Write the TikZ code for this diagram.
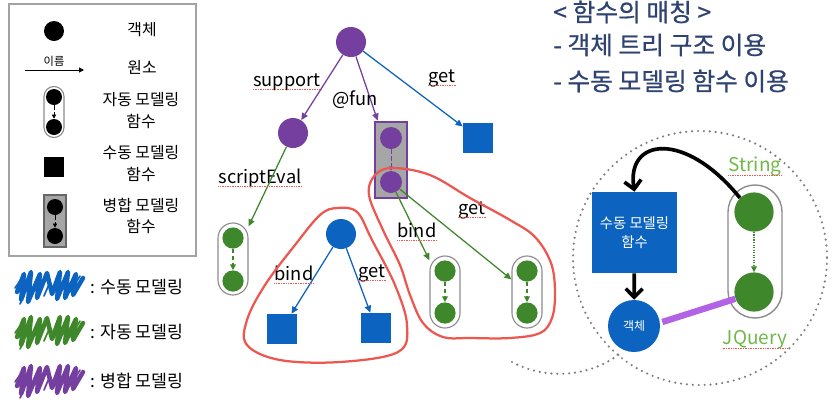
\documentclass[tikz,border=0pt]{standalone}
\usepackage{fontspec}
\setmainfont{Noto Sans CJK KR}
\newfontfamily\titlefont[FakeBold=0.6]{Noto Sans CJK KR}
\usetikzlibrary{arrows.meta}

\definecolor{tpurple}{RGB}{116,63,159}
\definecolor{tblue}{RGB}{12,100,192}
\definecolor{tgreen}{RGB}{62,135,42}
\definecolor{tgray}{RGB}{166,166,166}
\definecolor{capgray}{RGB}{140,140,140}
\definecolor{tred}{RGB}{236,88,80}
\definecolor{tnavy}{RGB}{47,67,114}
\definecolor{tlime}{RGB}{112,184,72}
\definecolor{tlilac}{RGB}{178,98,228}
\definecolor{dotgray}{RGB}{125,125,125}

\tikzset{
  ball/.style={circle, inner sep=0pt, minimum size=#1},
  sq/.style={rectangle, inner sep=0pt, minimum size=0.75cm, fill=tblue},
  capsule/.style={draw=capgray, line width=0.8pt, rounded corners=0.375cm, minimum width=0.75cm, minimum height=#1, inner sep=0pt},
  treearr/.style={line width=0.9pt, -{Triangle[length=5pt,width=4.5pt]}},
  dasharr/.style={line width=0.9pt, densely dashed, -{Triangle[length=4pt,width=4pt]}},
  lab/.style={font=\fontsize{13}{15}\selectfont, inner sep=0pt},
  lg/.style={font=\fontsize{11.3}{15.6}\selectfont, align=center, inner sep=0pt},
  spellline/.style={tred, line width=0.6pt, dash pattern=on 0.6pt off 0.6pt},
  redline/.style={tred, line width=1.6pt},
  titletext/.style={anchor=west, inner sep=0pt, text=tnavy, font=\titlefont\fontsize{17.6}{20}\selectfont},
}

\begin{document}
\begin{tikzpicture}[x=0.025cm, y=-0.025cm]
\useasboundingbox (0,0) rectangle (839,409);

% legend box
\draw[capgray!80, line width=0.8pt] (9,4) rectangle (196,256);
\node[ball=0.5cm, fill=black] (K1) at (54,31) {};
\node[lg] (K1t) at (142,30) {객체};
\coordinate (K2a) at (25,70);
\coordinate (K2b) at (84,70);
\draw[line width=0.7pt, -{Triangle[length=3.5pt,width=3.5pt]}] (K2a) -- (K2b);
\node[inner sep=0pt, font=\fontsize{8}{9}\selectfont] (K2l) at (54,61) {이름};
\node[lg] (K2t) at (142,67) {원소};
\node[capsule=1.275cm, minimum width=0.5cm, rounded corners=0.25cm] (K3) at (54,112) {};
\node[ball=0.4cm, fill=black] (K3a) at (54,97) {};
\node[ball=0.4cm, fill=black] (K3b) at (54,127) {};
\draw[dasharr, line width=0.6pt, -{Triangle[length=3pt,width=3pt]}] (K3a) -- (K3b);
\node[lg] (K3t) at (141,111) {자동 모델링\\함수};
\node[sq, fill=black, minimum size=0.5cm] (K4) at (54,167) {};
\node[lg] (K4t) at (141,164) {수동 모델링\\함수};
\node[rectangle, draw=gray!80!black, fill=tgray, line width=1.5pt, minimum width=0.55cm, minimum height=1.3cm] (K5) at (55,221) {};
\node[ball=0.4cm, fill=black] (K5a) at (55,207) {};
\node[ball=0.4cm, fill=black] (K5b) at (55,236) {};
\draw[dasharr, line width=0.6pt, -{Triangle[length=3pt,width=3pt]}] (K5a) -- (K5b);
\node[lg] (K5t) at (141,216) {병합 모델링\\함수};

% scribbles
\foreach \c/\y in {tblue/286, tgreen/331, tpurple/380} {
  \draw[\c, line width=3.2pt, line join=round, line cap=round]
    (17,\y+6) -- (24,\y-12) -- (21,\y+14) -- (31,\y-14) -- (28,\y+16) -- (40,\y-12)
    -- (37,\y+12) -- (47,\y-13) -- (52,\y+8) -- (60,\y-14) -- (57,\y+13) -- (68,\y-14)
    -- (65,\y+12) -- (76,\y-12) -- (73,\y+9) -- (83,\y-8);
  \draw[\c, line width=1.2pt, line cap=round]
    (15,\y+2) -- (22,\y-8) (44,\y+10) -- (50,\y-4) (70,\y+6) -- (80,\y-10) (20,\y+18) -- (24,\y+10);
}
\node[lg, anchor=west, font=\fontsize{12.3}{14}\selectfont] (M1) at (90,287) {: 수동 모델링};
\node[lg, anchor=west, font=\fontsize{12.3}{14}\selectfont] (M2) at (90,332) {: 자동 모델링};
\node[lg, anchor=west, font=\fontsize{12.3}{14}\selectfont] (M3) at (90,381) {: 병합 모델링};

% tree
\node[ball=0.75cm, fill=tpurple] (T0) at (351,42) {};
\node[ball=0.75cm, fill=tpurple] (T1) at (293,133) {};
\node[rectangle, draw=tpurple, fill=tgray, line width=2pt, minimum width=0.8cm, minimum height=1.9cm] (F) at (391,160) {};
\node[ball=0.55cm, fill=tpurple] (F1) at (391,138) {};
\node[ball=0.55cm, fill=tpurple] (F2) at (391,182) {};
\node[sq] (G) at (478,138) {};
\draw[treearr, tpurple] (T0) -- (T1);
\draw[treearr, tpurple] (T0) -- (F);
\draw[treearr, tblue] (T0) -- (G);
\draw[dasharr, tpurple, line width=0.7pt, -{Triangle[length=3pt,width=3pt]}] (F1) -- (F2);
\node[lab] (lSup) at (287,82) {support};
\node[lab] (lFun) at (355,100) {@fun};
\node[lab] (lGet) at (442,78) {get};
\node[lab] (lScr) at (260,178) {scriptEval};

\node[capsule=1.8cm] (C1) at (233,259) {};
\node[ball=0.53cm, fill=tgreen] (C1a) at (233,238) {};
\node[ball=0.53cm, fill=tgreen] (C1b) at (233,281) {};
\draw[dasharr, tgreen] (C1a) -- (C1b);
\draw[treearr, tgreen] (T1) -- (C1);

\node[ball=0.75cm, fill=tblue] (B0) at (341,234) {};
\node[sq] (B1) at (282,329) {};
\node[sq] (B2) at (376,328) {};
\draw[treearr, tblue] (B0) -- (B1);
\draw[treearr, tblue] (B0) -- (B2);
\node[lab] (lBnd) at (294,273) {bind};
\node[lab] (lBgt) at (372,273) {get};

\node[capsule=1.8cm] (C2) at (445,292) {};
\node[ball=0.53cm, fill=tgreen] (C2a) at (445,271) {};
\node[ball=0.53cm, fill=tgreen] (C2b) at (445,313) {};
\draw[dasharr, tgreen] (C2a) -- (C2b);
\node[capsule=1.8cm] (C3) at (527,292) {};
\node[ball=0.53cm, fill=tgreen] (C3a) at (527,271) {};
\node[ball=0.53cm, fill=tgreen] (C3b) at (527,313) {};
\draw[dasharr, tgreen] (C3a) -- (C3b);
\draw[treearr, tgreen] (F2) -- (C2);
\draw[treearr, tgreen] (F2) -- (C3);
\node[lab] (lGbd) at (417,230) {bind};
\node[lab] (lGgt) at (472,210) {get};

% red outlines
\draw[redline] plot[smooth cycle, tension=0.6] coordinates {(337,208) (357,212) (372,240) (395,285) (407,325) (398,352) (340,362) (280,360) (247,345) (247,320) (265,285) (295,245) (320,215)};
\draw[redline] plot[smooth cycle, tension=0.6] coordinates {(393,168) (430,175) (470,198) (510,220) (535,237) (551,263) (555,292) (552,318) (540,333) (510,338) (470,338) (443,337) (423,323) (410,295) (400,265) (383,230) (369,195) (375,175)};

% title
\node[titletext] (H1) at (553,12) {< 함수의 매칭 >};
\node[titletext] (H2) at (553,45) {- 객체 트리 구조 이용};
\node[titletext] (H3) at (553,81) {- 수동 모델링 함수 이용};

% zoom circle
\draw[dotgray, line width=1.7pt, dash pattern=on 0pt off 4.2pt, line cap=round] (700,258) circle [radius=127];
\draw[dotgray, line width=1.7pt, dash pattern=on 0pt off 4.2pt, line cap=round] (512,362) .. controls (545,380) and (590,378) .. (622,352);

\node[rectangle, fill=tblue, minimum width=2.125cm, minimum height=2.025cm, text=white, align=center, font=\fontsize{10.2}{14}\selectfont] (MR) at (634.5,232.5) {수동 모델링\\함수};
\node[ball=1.3cm, fill=tblue, text=white, font=\fontsize{8.5}{10}\selectfont] (MO) at (634,326) {객체};
\node[capsule=3.325cm, minimum width=1.35cm, rounded corners=0.675cm, line width=1pt] (S) at (755,251.5) {};
\node[ball=0.98cm, fill=tgreen] (S1) at (754,212) {};
\node[ball=0.98cm, fill=tgreen] (S2) at (754,292) {};
\draw[tgreen, line width=0.8pt, densely dotted, -{Triangle[length=4pt,width=4pt]}] (S1) -- (S2);
\draw[line width=2.6pt, -{Straight Barb[length=6pt,width=12pt]}] (MR) -- (MO);
\draw[line width=2.6pt, -{Straight Barb[length=6pt,width=12pt]}] (S1.135) .. controls (685,130) and (626,138) .. (MR.north);
\draw[tlilac, line width=4.5pt] (MO.east) ++(2,-4) coordinate (P0) (P0) -- (S2.200);
\node[lab, text=tlime, font=\fontsize{13.5}{15}\selectfont] (lStr) at (755,167) {String};
\node[lab, text=tlime, font=\fontsize{13.5}{15}\selectfont] (lJQ) at (755,340) {JQuery};

% spell marks
\foreach \n in {lSup,lGet,lScr,lBnd,lBgt,lGbd,lGgt,lStr,lJQ}
  \draw[spellline] ([yshift=-2.2pt]\n.base west) -- ([yshift=-2.2pt]\n.base east);
\end{tikzpicture}
\end{document}
